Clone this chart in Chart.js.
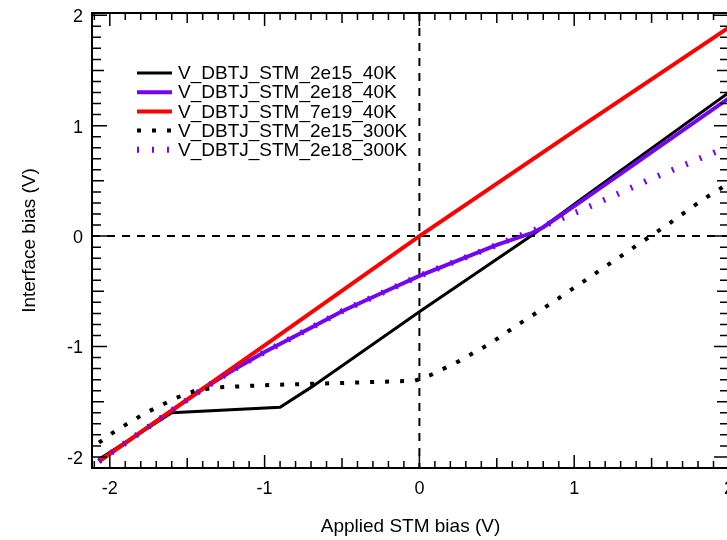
<!DOCTYPE html>
<html>
<head>
<meta charset="utf-8">
<script src="https://cdn.jsdelivr.net/npm/chart.js@4.4.1/dist/chart.umd.min.js"></script>
<style>
  html, body { margin: 0; padding: 0; background: #fff; overflow: hidden; }
  #wrap { width: 760px; height: 540px; }
</style>
</head>
<body>
<div id="wrap"><canvas id="biasChart" width="760" height="540"></canvas></div>
<script>
// series names (legend order)
var seriesNames = ['V_DBTJ_STM_2e15_40K', 'V_DBTJ_STM_2e18_40K', 'V_DBTJ_STM_7e19_40K',
                   'V_DBTJ_STM_2e15_300K', 'V_DBTJ_STM_2e18_300K'];

// applied STM bias (V) / interface bias (V)
var x2e15_40K = [-2.07, -1.6, -0.9, -0.7, 0, 0.73, 1.04, 2.0];
var y2e15_40K = [-2.02, -1.6, -1.55, -1.37, -0.685, 0.01, 0.33, 1.30];

var x2e18_40K = [-2.07, -1.6, -1.4, -1.2, -1.0, -0.7, -0.5, -0.25, 0, 0.25, 0.5, 0.73, 0.8, 1.04, 1.5, 2.0];
var y2e18_40K = [-2.04, -1.58, -1.385, -1.21, -1.05, -0.83, -0.68, -0.52, -0.36, -0.22, -0.08, 0.03, 0.08, 0.31, 0.76, 1.25];

var x7e19_40K = [-2.07, -1.0, 0, 1.0, 2.0];
var y7e19_40K = [-2.04, -0.99, 0, 0.95, 1.89];

var x2e15_300K = [-2.07, -1.97, -1.78, -1.58, -1.45, -1.3, -1.0, -0.5, -0.03, 0.07, 0.26, 0.46, 0.65, 0.85, 1.04, 1.24, 1.43, 1.62, 1.82, 2.0];
var y2e15_300K = [-1.87, -1.77, -1.61, -1.47, -1.40, -1.37, -1.35, -1.33, -1.31, -1.26, -1.13, -0.97, -0.79, -0.61, -0.43, -0.24, -0.06, 0.12, 0.32, 0.48];

var x2e18_300K = [-2.07, -1.6, -1.4, -1.2, -1.0, -0.7, -0.5, -0.25, 0, 0.25, 0.5, 0.75, 0.9, 1.04, 1.5, 1.91, 2.0];
var y2e18_300K = [-2.04, -1.58, -1.385, -1.21, -1.05, -0.83, -0.68, -0.52, -0.36, -0.22, -0.08, 0.06, 0.15, 0.23, 0.52, 0.76, 0.81];

var xTickLabels = [-2, -1, 0, 1, 2];
var yTickLabels = [-2, -1, 0, 1, 2];

var FONT = '"Liberation Sans", Arial, sans-serif';
var PURPLE = '#7206f0';

function toPoints(xs, ys) {
    var pts = [];
    for (var i = 0; i < xs.length; i++) pts.push({ x: xs[i], y: ys[i] });
    return pts;
}

function lineSet(i, xs, ys, color, width, dash) {
    return {
        label: seriesNames[i],
        data: toPoints(xs, ys),
        showLine: true,
        borderColor: color,
        backgroundColor: color,
        borderWidth: width,
        borderDash: dash,
        borderCapStyle: 'butt',
        pointRadius: 0,
        fill: false,
        order: 5 - i
    };
}

// frame, inward ticks, zero lines and the in-plot legend
var framePlugin = {
    id: 'framePlugin',
    beforeDatasetsDraw: function (chart) {
        var ctx = chart.ctx, a = chart.chartArea;
        var x0 = chart.scales.x.getPixelForValue(0);
        var y0 = chart.scales.y.getPixelForValue(0);
        ctx.save();
        ctx.strokeStyle = '#000';
        ctx.lineWidth = 2;
        ctx.setLineDash([8, 7]);
        ctx.beginPath();
        ctx.moveTo(x0, a.top); ctx.lineTo(x0, a.bottom);
        ctx.moveTo(a.left, y0); ctx.lineTo(a.right, y0);
        ctx.stroke();
        ctx.restore();
    },
    afterDatasetsDraw: function (chart) {
        var ctx = chart.ctx, a = chart.chartArea;
        var sx = chart.scales.x, sy = chart.scales.y;
        ctx.save();
        ctx.strokeStyle = '#000';
        ctx.lineWidth = 2;
        ctx.strokeRect(a.left, a.top, a.right - a.left, a.bottom - a.top);
        ctx.lineWidth = 1.5;
        ctx.beginPath();
        for (var i = -21; i <= 20; i++) {
            var v = i / 10;
            var len = (i % 10 === 0) ? 13 : (i % 5 === 0 ? 10 : 7);
            var px = sx.getPixelForValue(v);
            if (px >= a.left && px <= a.right) {
                ctx.moveTo(px, a.bottom); ctx.lineTo(px, a.bottom - len);
                ctx.moveTo(px, a.top); ctx.lineTo(px, a.top + len);
            }
            var py = sy.getPixelForValue(v);
            if (py >= a.top && py <= a.bottom) {
                var ylen = len + 2;
                ctx.moveTo(a.left, py); ctx.lineTo(a.left + ylen, py);
                ctx.moveTo(a.right, py); ctx.lineTo(a.right - ylen, py);
            }
        }
        ctx.stroke();

        // legend
        var lx = 137, ly = 73, step = 19.2;
        ctx.font = '19px ' + FONT;
        ctx.textBaseline = 'middle';
        ctx.textAlign = 'left';
        chart.data.datasets.forEach(function (ds, k) {
            var yy = ly + k * step;
            ctx.strokeStyle = ds.borderColor;
            ctx.lineWidth = ds.borderWidth;
            ctx.lineCap = 'butt';
            ctx.setLineDash(ds.borderDash || []);
            ctx.beginPath();
            ctx.moveTo(lx, yy); ctx.lineTo(lx + 35, yy);
            ctx.stroke();
            ctx.setLineDash([]);
            ctx.fillStyle = '#000';
            ctx.fillText(ds.label, lx + 41, yy + 1);
        });
        ctx.restore();
    }
};

var ctx = document.getElementById('biasChart').getContext('2d');

var chart = new Chart(ctx, {
    type: 'scatter',
    data: {
        datasets: [
            lineSet(0, x2e15_40K, y2e15_40K, '#000000', 3, []),
            lineSet(1, x2e18_40K, y2e18_40K, PURPLE, 4, []),
            lineSet(2, x7e19_40K, y7e19_40K, '#ff0000', 4, []),
            lineSet(3, x2e15_300K, y2e15_300K, '#000000', 4, [4, 11]),
            lineSet(4, x2e18_300K, y2e18_300K, PURPLE, 6, [2, 13])
        ]
    },
    options: {
        responsive: false,
        animation: false,
        layout: { padding: { left: 0, top: 13, right: 31, bottom: 0 } },
        plugins: {
            legend: { display: false },
            tooltip: { enabled: false }
        },
        scales: {
            x: {
                type: 'linear',
                min: -2.115,
                max: 2.0,
                grid: { display: false, drawTicks: false },
                border: { display: false },
                afterBuildTicks: function (scale) {
                    scale.ticks = xTickLabels.map(function (v) { return { value: v }; });
                },
                afterFit: function (scale) {
                    scale.height = 72;
                    scale.paddingLeft = 0;
                    scale.paddingRight = 0;
                },
                ticks: {
                    padding: 10,
                    maxRotation: 0,
                    color: '#000',
                    font: { family: FONT, size: 18 },
                    callback: function (v) { return String(v); }
                },
                title: {
                    display: true,
                    text: 'Applied STM bias (V)',
                    color: '#000',
                    font: { family: FONT, size: 19 },
                    padding: { top: 0, bottom: 2 }
                }
            },
            y: {
                type: 'linear',
                min: -2.1,
                max: 2.02,
                grid: { display: false, drawTicks: false },
                border: { display: false },
                afterBuildTicks: function (scale) {
                    scale.ticks = yTickLabels.map(function (v) { return { value: v }; });
                },
                afterFit: function (scale) {
                    scale.width = 92;
                    scale.paddingTop = 0;
                    scale.paddingBottom = 0;
                },
                ticks: {
                    padding: 9,
                    labelOffset: 2,
                    color: '#000',
                    font: { family: FONT, size: 18 },
                    callback: function (v) { return String(v); }
                },
                title: {
                    display: true,
                    text: 'Interface bias (V)',
                    color: '#000',
                    font: { family: FONT, size: 19 },
                    padding: { top: 18, bottom: 0 }
                }
            }
        }
    },
    plugins: [framePlugin]
});
</script>
</body>
</html>
